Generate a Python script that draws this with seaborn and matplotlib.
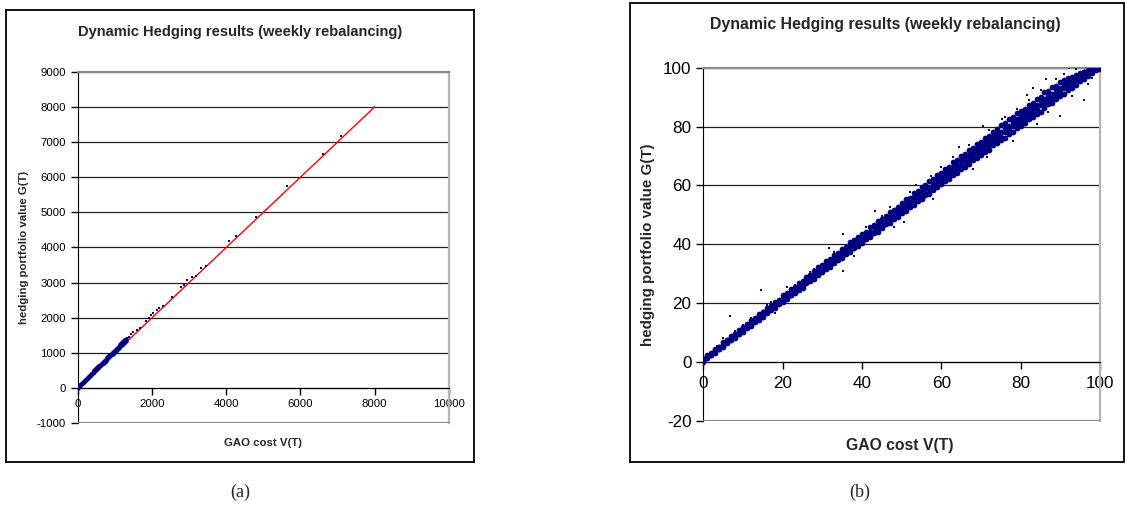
import matplotlib
matplotlib.use("Agg")
import matplotlib.pyplot as plt
import seaborn as sns
import pandas as pd
from matplotlib.patches import Rectangle

# ---- panel (a): GAO cost vs hedging portfolio value, full range ----
a_dense_x = [0, 50, 100, 150, 200, 250, 300, 350, 400, 450, 500, 550, 600, 650,
             700, 750, 800, 850, 900, 950, 1000, 1050, 1100, 1150, 1200, 1250, 1300]
a_dense_y1 = [4, 56, 108, 159, 212, 262, 314, 365, 418, 468, 519, 572, 622, 673,
              726, 776, 828, 880, 930, 983, 1033, 1086, 1136, 1188, 1239, 1292, 1343]
a_dense_y2 = [22, 79, 131, 188, 240, 297, 349, 404, 455, 509, 560, 615, 667, 720,
              772, 827, 878, 932, 984, 1038, 1089, 1144, 1195, 1250, 1301, 1356, 1408]
a_sparse_x = [1320, 1380, 1436, 1500, 1589, 1679, 1831, 1921, 1975, 2020, 2128,
              2181, 2289, 2540, 2792, 2873, 2935, 3070, 3187, 3330, 3456, 4066,
              4273, 4794, 5646, 6616, 7083]
a_sparse_y = [1413, 1455, 1536, 1584, 1650, 1717, 1906, 1982, 2077, 2124, 2219,
              2267, 2343, 2599, 2864, 2931, 3073, 3149, 3196, 3424, 3481, 4192,
              4315, 4875, 5738, 6667, 7160]
a_line_x = [0, 8000]
a_line_y = [0, 8000]
a_xticks = [0, 2000, 4000, 6000, 8000, 10000]
a_yticks = [-1000, 0, 1000, 2000, 3000, 4000, 5000, 6000, 7000, 8000, 9000]

# ---- panel (b): zoom on 0..100 ----
b_x = list(range(0, 101))
b_y_low = [0.1, 1.2, 2.3, 3.1, 4.4, 5.2, 6.3, 7.5, 8.2, 9.4,
           10.3, 11.5, 12.2, 13.6, 14.4, 15.3, 16.7, 17.5, 18.4, 19.6,
           20.5, 21.3, 22.7, 23.4, 24.6, 25.2, 26.8, 27.5, 28.3, 29.6,
           30.4, 31.7, 32.2, 33.6, 34.5, 35.3, 36.8, 37.4, 38.6, 39.5,
           40.3, 41.6, 42.4, 43.8, 44.2, 45.5, 46.7, 47.3, 48.6, 49.4,
           50.5, 51.2, 52.7, 53.4, 54.6, 55.3, 56.8, 57.1, 58.5, 59.4,
           60.3, 61.6, 62.2, 63.5, 64.1, 65.7, 66.4, 67.2, 68.6, 69.3,
           70.2, 71.5, 72.1, 73.6, 74.3, 75.4, 76.0, 77.5, 78.2, 79.4,
           80.3, 81.1, 82.5, 83.2, 84.4, 85.0, 86.3, 87.5, 88.1, 89.2,
           90.4, 91.1, 92.3, 93.0, 94.2, 95.5, 96.1, 97.3, 98.2, 99.1, 100.0]
b_y_mid1 = [0.4, 1.6, 2.5, 3.7, 4.5, 5.8, 6.6, 7.7, 8.9, 9.6,
            10.9, 11.7, 13.0, 13.8, 15.1, 15.9, 16.8, 18.0, 19.2, 19.9,
            21.0, 22.2, 22.9, 24.1, 25.3, 26.0, 27.2, 28.1, 29.4, 30.0,
            31.3, 32.1, 33.4, 34.2, 35.5, 36.3, 37.1, 38.6, 39.2, 40.4,
            41.5, 42.3, 43.6, 44.2, 45.4, 46.7, 47.3, 48.5, 49.6, 50.4,
            51.6, 52.4, 53.8, 54.5, 55.7, 56.9, 57.4, 58.6, 59.8, 60.5,
            61.7, 62.9, 63.5, 64.8, 66.0, 66.6, 67.8, 69.1, 69.7, 70.9,
            71.8, 73.0, 73.7, 75.1, 75.9, 76.6, 78.0, 78.8, 80.2, 80.9,
            82.0, 82.8, 84.1, 84.7, 85.9, 87.2, 87.8, 89.0, 89.7, 90.9,
            91.8, 93.0, 93.6, 94.9, 95.7, 96.5, 97.6, 98.3, 99.2, 99.8, 100.0]
b_y_mid2 = [0.7, 2.0, 2.8, 4.1, 5.2, 5.9, 7.3, 8.1, 9.4, 10.2,
            11.5, 12.3, 13.7, 14.4, 15.6, 16.8, 17.5, 18.9, 19.6, 20.7,
            21.8, 23.0, 23.7, 25.1, 25.9, 27.2, 27.8, 29.0, 30.3, 30.9,
            32.1, 33.3, 34.0, 35.4, 36.2, 37.5, 38.1, 39.3, 40.6, 41.2,
            42.4, 43.6, 44.3, 45.7, 46.5, 47.2, 48.8, 49.4, 50.6, 51.9,
            52.6, 53.8, 54.5, 56.0, 56.7, 57.9, 59.1, 59.6, 60.8, 62.2,
            62.9, 64.1, 64.8, 66.3, 67.0, 68.2, 68.9, 70.4, 71.1, 72.3,
            73.2, 74.5, 75.1, 76.4, 77.6, 78.2, 79.5, 80.3, 81.7, 82.4,
            83.5, 84.3, 85.6, 86.2, 87.4, 88.7, 89.3, 90.5, 91.1, 92.4,
            93.2, 94.0, 95.3, 95.9, 97.1, 97.7, 98.5, 99.2, 99.8, 99.9, 99.6]
b_y_high = [1.0, 2.3, 3.1, 4.5, 5.2, 6.6, 7.4, 8.7, 9.5, 10.8,
            12.0, 12.8, 14.2, 14.9, 16.3, 17.1, 18.4, 19.0, 20.5, 21.2,
            22.6, 23.3, 24.8, 25.5, 26.9, 27.6, 29.0, 29.7, 30.8, 32.1,
            32.9, 34.2, 35.0, 36.4, 37.1, 38.5, 39.2, 40.6, 41.3, 42.4,
            43.6, 44.3, 45.8, 46.5, 47.9, 48.4, 49.7, 51.0, 51.6, 52.8,
            53.9, 55.2, 55.8, 57.3, 58.0, 59.4, 60.1, 61.5, 62.2, 63.6,
            64.3, 65.7, 66.4, 67.8, 68.5, 69.9, 70.6, 72.0, 72.7, 74.1,
            74.8, 76.2, 76.9, 78.3, 79.0, 80.4, 81.1, 82.5, 83.2, 84.6,
            85.3, 86.0, 87.4, 88.1, 89.5, 90.2, 91.6, 92.0, 93.3, 93.9,
            95.1, 95.7, 96.4, 97.0, 97.6, 98.1, 98.6, 99.0, 99.5, 99.9, 100.0]
b_out_x = [3.5, 5.0, 6.7, 8.0, 12.0, 14.5, 17.0, 18.0, 21.0, 25.5, 28.0, 31.7,
           35.1, 35.3, 38.0, 43.2, 45.0, 48.0, 50.6, 53.7, 55.0, 57.5, 58.0,
           61.9, 64.4, 66.0, 68.0, 70.4, 71.4, 74.0, 75.2, 78.0, 79.0, 81.6,
           83.0, 84.0, 86.5, 88.0, 89.0, 90.0, 92.1, 93.0, 95.0, 96.0, 97.0,
           10.0, 16.0, 23.0, 27.0, 33.0, 41.0, 47.0, 52.0, 60.0, 63.0, 67.0,
           72.0, 76.0, 82.0, 85.0, 87.0, 91.0, 94.0, 98.0]
b_out_y = [5.5, 8.0, 15.5, 10.5, 15.0, 24.3, 20.5, 16.6, 25.5, 28.8, 31.5, 38.7,
           43.4, 30.8, 36.0, 51.3, 49.5, 46.0, 47.4, 60.2, 58.8, 63.3, 55.5,
           65.6, 73.2, 70.5, 65.5, 80.2, 69.5, 79.5, 82.5, 75.0, 86.0, 90.7,
           93.1, 81.0, 96.2, 93.0, 96.0, 83.7, 99.8, 90.5, 98.5, 89.0, 94.5,
           12.6, 19.4, 26.1, 30.5, 37.2, 45.8, 52.5, 57.9, 66.4, 69.8, 73.6,
           78.9, 83.4, 89.1, 92.3, 84.9, 97.8, 99.6, 96.6]
b_line_x = [0, 100]
b_line_y = [0, 100]
b_ticks_x = [0, 20, 40, 60, 80, 100]
b_ticks_y = [-20, 0, 20, 40, 60, 80, 100]

title = "Dynamic Hedging results (weekly rebalancing)"
xlab = "GAO cost V(T)"
ylab = "hedging portfolio value G(T)"

sns.set_style("white")
plt.rcParams["font.family"] = ["Liberation Sans", "DejaVu Sans"]
plt.rcParams["axes.unicode_minus"] = False

dense_a = pd.DataFrame({"V": a_dense_x + a_dense_x, "G": a_dense_y1 + a_dense_y2})
sparse_a = pd.DataFrame({"V": a_sparse_x, "G": a_sparse_y})
core_b = pd.DataFrame({"V": b_x * 4, "G": b_y_low + b_y_mid1 + b_y_mid2 + b_y_high})
out_b = pd.DataFrame({"V": b_out_x, "G": b_out_y})

navy = "#000080"
fig = plt.figure(figsize=(11.25, 5.14), dpi=100)

# outer chart frames
fig.patches.append(Rectangle((0.0053, 0.1012), 0.416, 0.8794, transform=fig.transFigure,
                             fill=False, edgecolor="black", linewidth=1.3))
fig.patches.append(Rectangle((0.560, 0.1012), 0.4391, 0.893, transform=fig.transFigure,
                             fill=False, edgecolor="black", linewidth=1.3))


def style_axes(ax, xticks, yticks, fs, pad):
    ax.set_xlim(xticks[0], xticks[-1])
    ax.set_ylim(yticks[0], yticks[-1])
    ax.set_xticks(xticks)
    ax.set_yticks(yticks)
    ax.yaxis.grid(True, color="#202020", linewidth=0.9)
    ax.set_axisbelow(True)
    ax.spines["bottom"].set_position(("data", 0))
    ax.spines["bottom"].set_color("black")
    ax.spines["left"].set_color("black")
    ax.spines["top"].set_color("#8c8c8c")
    ax.spines["right"].set_color("#b4b4b4")
    for s in ["top", "right"]:
        ax.spines[s].set_linewidth(1.6)
        ax.spines[s].set_visible(True)
    ax.axhline(yticks[0], color="#8c8c8c", linewidth=1.6, zorder=3)
    ax.tick_params(axis="both", direction="out", length=5, width=1,
                   labelsize=fs, colors="black", bottom=True, left=True)
    ax.tick_params(axis="x", pad=pad)
    ax.set_xlabel("")
    ax.set_ylabel("")


# (a)
ax1 = fig.add_axes([0.0691, 0.1765, 0.3300, 0.6841])
sns.lineplot(x=a_line_x, y=a_line_y, color="red", linewidth=1.0, ax=ax1, zorder=2)
sns.scatterplot(data=dense_a, x="V", y="G", color=navy, marker="o", s=10,
                linewidth=0, ax=ax1, zorder=3)
sns.scatterplot(data=sparse_a, x="V", y="G", color=navy, marker="s", s=4,
                linewidth=0, ax=ax1, zorder=3)
style_axes(ax1, a_xticks, a_yticks, 8.2, 3)

# (b)
ax2 = fig.add_axes([0.6252, 0.1815, 0.3526, 0.6868])
sns.lineplot(x=b_line_x, y=b_line_y, color="red", linewidth=1.0, ax=ax2, zorder=2)
sns.scatterplot(data=core_b, x="V", y="G", color=navy, marker="o", s=17,
                linewidth=0, ax=ax2, zorder=3)
sns.scatterplot(data=out_b, x="V", y="G", color=navy, marker="s", s=4,
                linewidth=0, ax=ax2, zorder=3)
style_axes(ax2, b_ticks_x, b_ticks_y, 12.3, 5)

# titles and axis labels
fig.text(0.2133, 0.9377, title, ha="center", va="center", fontsize=10.5, fontweight="bold")
fig.text(0.2338, 0.1381, xlab, ha="center", va="center", fontsize=8.2, fontweight="bold")
fig.text(0.0213, 0.5185, ylab, ha="center", va="center", rotation=90, fontsize=8.2,
         fontweight="bold")

fig.text(0.7867, 0.9514, title, ha="center", va="center", fontsize=11.4, fontweight="bold")
fig.text(0.8000, 0.1323, xlab, ha="center", va="center", fontsize=11.3, fontweight="bold")
fig.text(0.5760, 0.5233, ylab, ha="center", va="center", rotation=90, fontsize=10.9,
         fontweight="bold")

# sub-figure captions
fig.text(0.2133, 0.0428, "(a)", ha="center", va="center", fontsize=13,
         family=["Liberation Serif", "DejaVu Serif"])
fig.text(0.7644, 0.0428, "(b)", ha="center", va="center", fontsize=13,
         family=["Liberation Serif", "DejaVu Serif"])

fig.savefig("out.png", dpi=100)
